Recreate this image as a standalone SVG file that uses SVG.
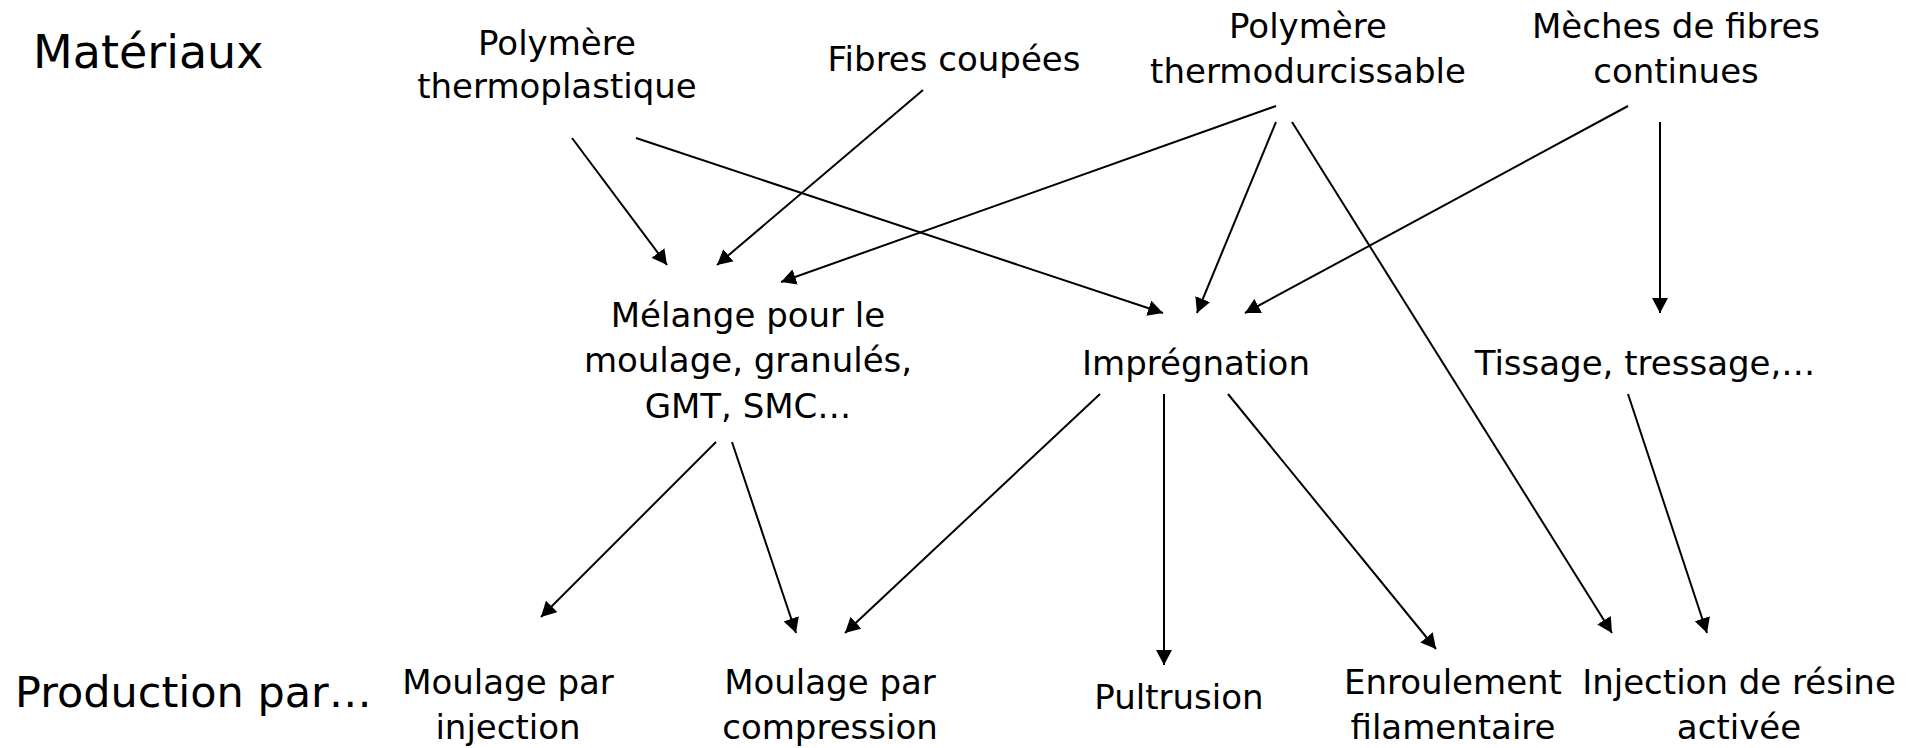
<svg xmlns="http://www.w3.org/2000/svg" width="1927" height="748" viewBox="0 0 1927 748">
<style>
text{font-family:"DejaVu Sans","Liberation Sans",sans-serif;fill:#000;}
.n{font-size:34px;text-anchor:middle;}
.h{font-size:46px;}
.c line{stroke:#000;stroke-width:2;marker-end:url(#ah);}
</style>
<defs>
<marker id="ah" markerUnits="userSpaceOnUse" markerWidth="15" markerHeight="16" refX="15" refY="8" orient="auto" viewBox="0 0 15 16">
<path d="M0,0 L15,8 L0,16 z" fill="#000"/>
</marker>
</defs>
<rect width="1927" height="748" fill="#fff"/>
<g id="lbl-materiaux"><text class="h" x="33" y="68">Matériaux</text></g>
<g id="lbl-production"><text class="h" x="15" y="707" style="font-size:43px">Production par…</text></g>
<g id="n-thermoplastique"><text class="n" x="557" y="55">Polymère</text><text class="n" x="557" y="98">thermoplastique</text></g>
<g id="n-fibres-coupees"><text class="n" x="954" y="71">Fibres coupées</text></g>
<g id="n-thermodurcissable"><text class="n" x="1308" y="38">Polymère</text><text class="n" x="1308" y="83">thermodurcissable</text></g>
<g id="n-meches"><text class="n" x="1676" y="38">Mèches de fibres</text><text class="n" x="1676" y="83">continues</text></g>
<g id="n-melange"><text class="n" x="748" y="327">Mélange pour le</text><text class="n" x="748" y="372">moulage, granulés,</text><text class="n" x="748" y="418">GMT, SMC…</text></g>
<g id="n-impregnation"><text class="n" x="1196" y="375">Imprégnation</text></g>
<g id="n-tissage"><text class="n" x="1645" y="375">Tissage, tressage,…</text></g>
<g id="n-moulage-injection"><text class="n" x="508" y="694">Moulage par</text><text class="n" x="508" y="739">injection</text></g>
<g id="n-moulage-compression"><text class="n" x="830" y="694">Moulage par</text><text class="n" x="830" y="739">compression</text></g>
<g id="n-pultrusion"><text class="n" x="1179" y="709">Pultrusion</text></g>
<g id="n-enroulement"><text class="n" x="1453" y="694">Enroulement</text><text class="n" x="1453" y="739">filamentaire</text></g>
<g id="n-injection-resine"><text class="n" x="1739" y="694">Injection de résine</text><text class="n" x="1739" y="739">activée</text></g>
<g id="connectors" class="c">
<line x1="572" y1="138" x2="667" y2="265"/>
<line x1="636" y1="138" x2="1163" y2="313"/>
<line x1="923" y1="90" x2="717" y2="265"/>
<line x1="1276" y1="106" x2="781" y2="282"/>
<line x1="1276" y1="122" x2="1197" y2="313"/>
<line x1="1292" y1="122" x2="1612" y2="633"/>
<line x1="1628" y1="106" x2="1245" y2="313"/>
<line x1="1660" y1="122" x2="1660" y2="313"/>
<line x1="716" y1="442" x2="541" y2="617"/>
<line x1="732" y1="442" x2="796" y2="633"/>
<line x1="1100" y1="394" x2="845" y2="633"/>
<line x1="1164" y1="394" x2="1164" y2="665"/>
<line x1="1228" y1="394" x2="1436" y2="649"/>
<line x1="1628" y1="394" x2="1707" y2="633"/>
</g>
</svg>
